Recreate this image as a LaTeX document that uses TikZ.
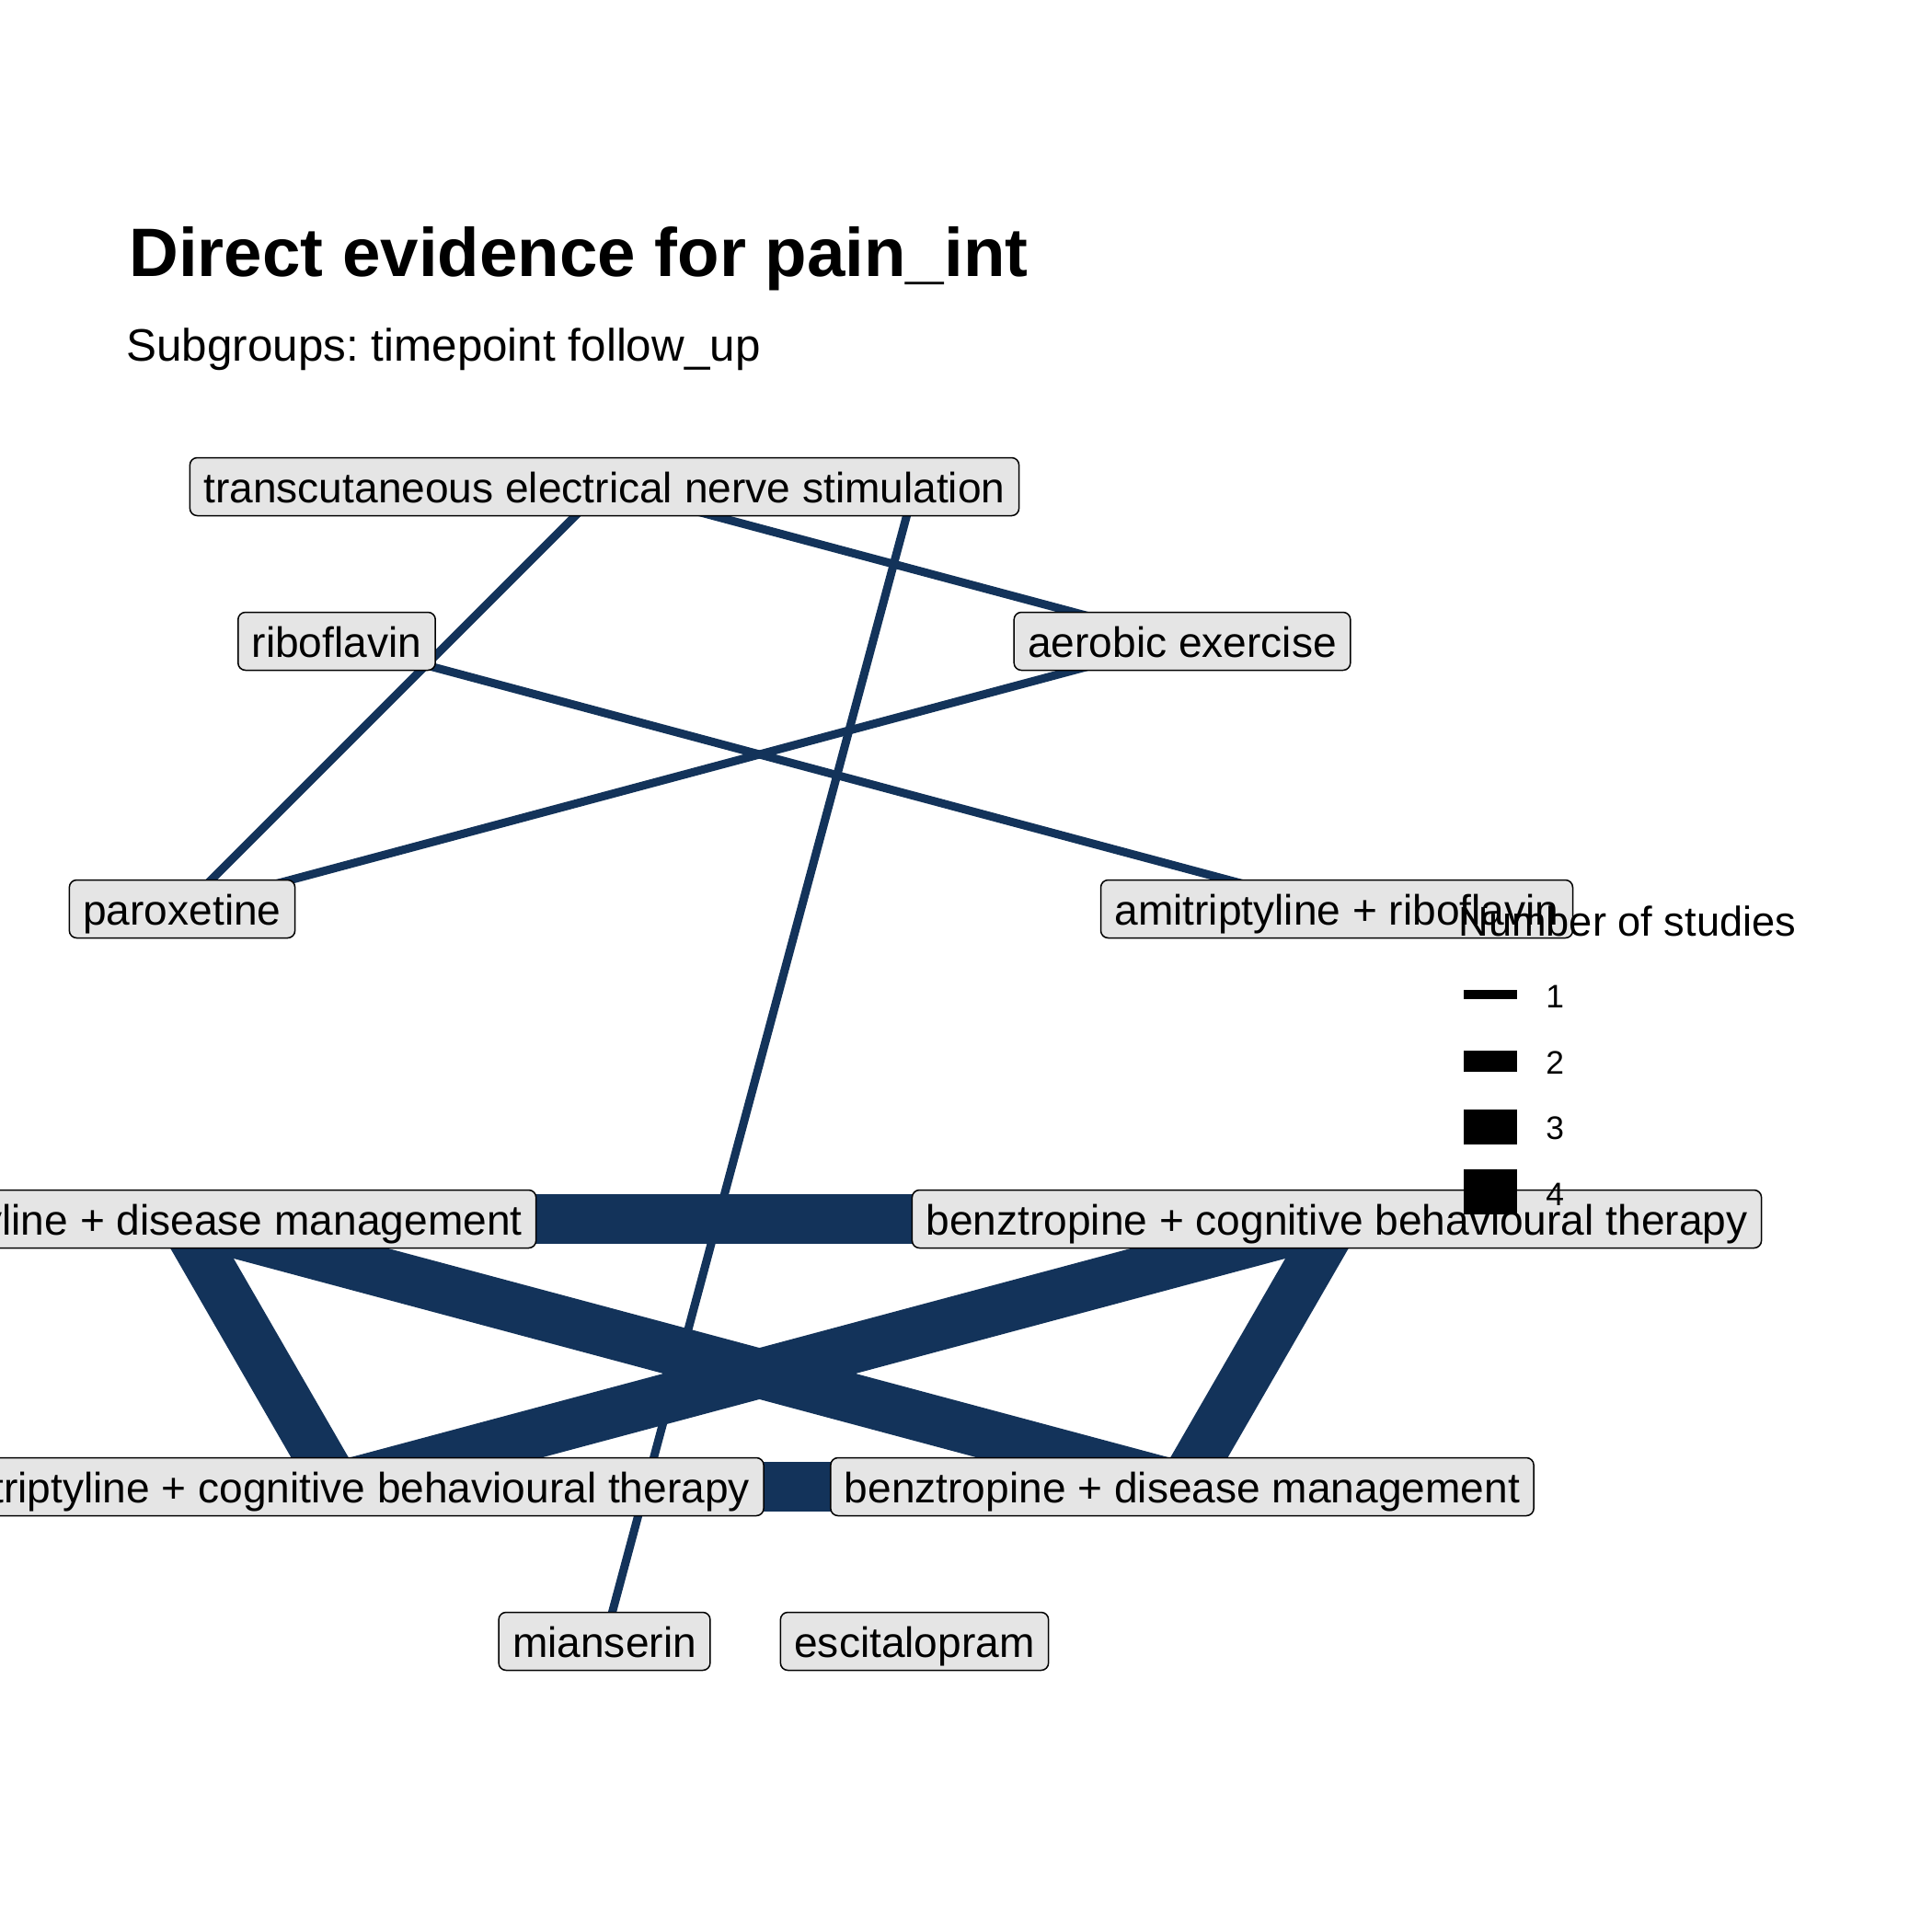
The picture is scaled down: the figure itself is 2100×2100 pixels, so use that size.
\documentclass[tikz,border=0pt]{standalone}
\usepackage{fontspec}
\setmainfont{Liberation Sans}
\frenchspacing
\definecolor{edgenavy}{RGB}{19,51,90}
\definecolor{boxgrey}{RGB}{229,229,229}
\pgfdeclarelayer{background}
\pgfsetlayers{background,main}
\tikzset{
  lbl/.style={draw=black, line width=0.75pt, fill=boxgrey, rounded corners=4pt,
    inner xsep=7.5pt, inner ysep=4.15pt, text height=20.2pt, text depth=3.0pt,
    font=\fontsize{23.05pt}{27pt}\selectfont},
  thinedge/.style={draw=edgenavy, line width=4.5pt},
  thickedge/.style={draw=edgenavy, line width=27pt},
  keybar/.style={fill=black, draw=none},
  keynum/.style={anchor=base west, inner sep=0pt, font=\fontsize{17.7pt}{20pt}\selectfont},
}
\begin{document}
\begin{tikzpicture}[x=0.5pt,y=-0.5pt]
\clip (0,0) rectangle (2100,2100);
% title
\node[anchor=base west, inner sep=0pt, font=\fontsize{37.25pt}{42pt}\selectfont\bfseries] (title) at (140,300) {Direct evidence for pain\_int};
\node[anchor=base west, inner sep=0pt, font=\fontsize{24.7pt}{29pt}\selectfont] (subtitle) at (137,392) {Subgroups: timepoint follow\_up};
% hidden node position (label covered)
\coordinate (hid) at (994,529);
% nodes
\node[lbl] (tens) at (657,529) {transcutaneous electrical nerve stimulation};
\node[lbl] (ribo) at (366,697) {riboflavin};
\node[lbl] (aero) at (1285,697) {aerobic exercise};
\node[lbl] (parox) at (198,988) {paroxetine};
\node[lbl] (amiribo) at (1453,988) {amitriptyline + riboflavin};
\node[lbl] (amidm) at (198,1325) {amitriptyline + disease management};
\node[lbl] (benzcbt) at (1453,1325) {benztropine + cognitive behavioural therapy};
\node[lbl] (amicbt) at (366,1616) {amitriptyline + cognitive behavioural therapy};
\node[lbl] (benzdm) at (1285,1616) {benztropine + disease management};
\node[lbl] (mian) at (657,1784) {mianserin};
\node[lbl] (escit) at (994,1784) {escitalopram};
% edges
\begin{pgfonlayer}{background}
\fill[white] (0,0) rectangle (2100,2100);
\draw[thinedge] (tens.center) -- (parox.center);
\draw[thinedge] (tens.center) -- (aero.center);
\draw[thinedge] (hid) -- (mian.center);
\draw[thinedge] (ribo.center) -- (amiribo.center);
\draw[thinedge] (aero.center) -- (parox.center);
\draw[thickedge] (amidm.center) -- (benzcbt.center);
\draw[thickedge] (amidm.center) -- (amicbt.center);
\draw[thickedge] (amidm.center) -- (benzdm.center);
\draw[thickedge] (benzcbt.center) -- (amicbt.center);
\draw[thickedge] (benzcbt.center) -- (benzdm.center);
\draw[thickedge] (amicbt.center) -- (benzdm.center);
\end{pgfonlayer}
% legend
\node[anchor=base west, inner sep=0pt, font=\fontsize{22.6pt}{26pt}\selectfont] (legtitle) at (1585,1017) {Number of studies};
\fill[keybar] (1591,1076) rectangle (1649,1086);
\fill[keybar] (1591,1141.5) rectangle (1649,1164.5);
\fill[keybar] (1591,1206) rectangle (1649,1244);
\fill[keybar] (1591,1270.5) rectangle (1649,1319.5);
\node[keynum] (k1) at (1680,1095) {1};
\node[keynum] (k2) at (1680,1167) {2};
\node[keynum] (k3) at (1680,1238) {3};
\node[keynum] (k4) at (1680,1310) {4};
\end{tikzpicture}
\end{document}
